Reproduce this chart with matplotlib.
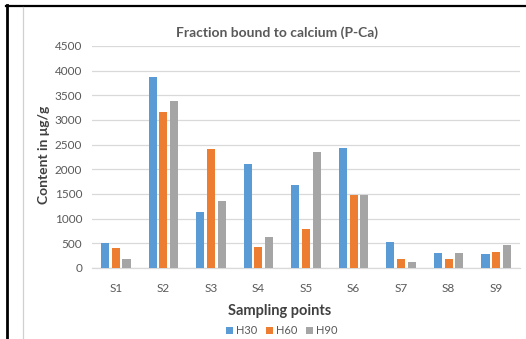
import matplotlib
matplotlib.use("Agg")
import matplotlib.pyplot as plt
from matplotlib.lines import Line2D
import numpy as np

categories = ["S1", "S2", "S3", "S4", "S5", "S6", "S7", "S8", "S9"]
h30 = [505, 3870, 1135, 2115, 1680, 2440, 525, 300, 290]
h60 = [400, 3160, 2410, 420, 790, 1485, 190, 190, 330]
h90 = [190, 3390, 1350, 630, 2360, 1485, 115, 300, 460]
series_names = ["H30", "H60", "H90"]
y_ticks = [0, 500, 1000, 1500, 2000, 2500, 3000, 3500, 4000, 4500]

colors = ["#5B9BD5", "#ED7D31", "#A5A5A5"]
text_gray = "#595959"
grid_gray = "#D9D9D9"

plt.rcParams["font.family"] = ["Lato", "DejaVu Sans"]

W, H = 526, 339
fig = plt.figure(figsize=(W / 100, H / 100), dpi=100)
fig.patch.set_facecolor("white")

ax = fig.add_axes([92 / W, 1 - 268 / H, (520 - 92) / W, (268 - 46) / H])

x = np.arange(len(categories))
bw = 0.17
step = 0.225
for i, (vals, name) in enumerate(zip([h30, h60, h90], series_names)):
    ax.bar(x + (i - 1) * step, vals, width=bw, color=colors[i], label=name,
           zorder=3)

ax.set_xlim(-0.5, len(categories) - 0.5)
ax.set_ylim(0, 4500)
ax.set_yticks(y_ticks)
ax.set_yticklabels([str(v) for v in y_ticks])
ax.set_xticks(x)
ax.set_xticklabels(categories)
ax.tick_params(axis="both", length=0, labelsize=8.5, labelcolor=text_gray)
ax.tick_params(axis="y", pad=7)
ax.tick_params(axis="x", pad=11)
ax.yaxis.grid(True, color=grid_gray, linewidth=0.9, zorder=0)
for s in ["left", "right", "top"]:
    ax.spines[s].set_visible(False)
ax.spines["bottom"].set_color(grid_gray)
ax.spines["bottom"].set_linewidth(0.9)
ax.set_axisbelow(True)

fig.text(277 / W, 1 - 33 / H, "Fraction bound to calcium (P-Ca)",
         ha="center", va="center", fontsize=10, fontweight="bold",
         color=text_gray)
fig.text(44 / W, 1 - 155 / H, "Content in \u03bcg/g", ha="center",
         va="center", rotation=90, fontsize=10, fontweight="bold",
         color="#404040")
fig.text(280 / W, 1 - 311 / H, "Sampling points", ha="center", va="center",
         fontsize=10.5, fontweight="bold", color="#404040")

leg = fig.legend(loc="center", bbox_to_anchor=(282 / W, 1 - 331 / H),
                 ncol=3, frameon=False, fontsize=8, handlelength=0.6,
                 handleheight=0.6, handletextpad=0.3, columnspacing=0.8,
                 borderaxespad=0, borderpad=0)
for t in leg.get_texts():
    t.set_color(text_gray)

# page frame lines around the chart
fig.add_artist(Line2D([7 / W, 7 / W], [0, 1 - 5 / H], color="black",
                      linewidth=2, transform=fig.transFigure))
fig.add_artist(Line2D([6 / W, 1], [1 - 6 / H, 1 - 6 / H], color="black",
                      linewidth=1.6, transform=fig.transFigure))
fig.add_artist(Line2D([22.5 / W, 22.5 / W], [0, 1 - 7 / H], color="#D0D0D0",
                      linewidth=0.9, transform=fig.transFigure))

fig.savefig("out.png", dpi=100, facecolor="white")
